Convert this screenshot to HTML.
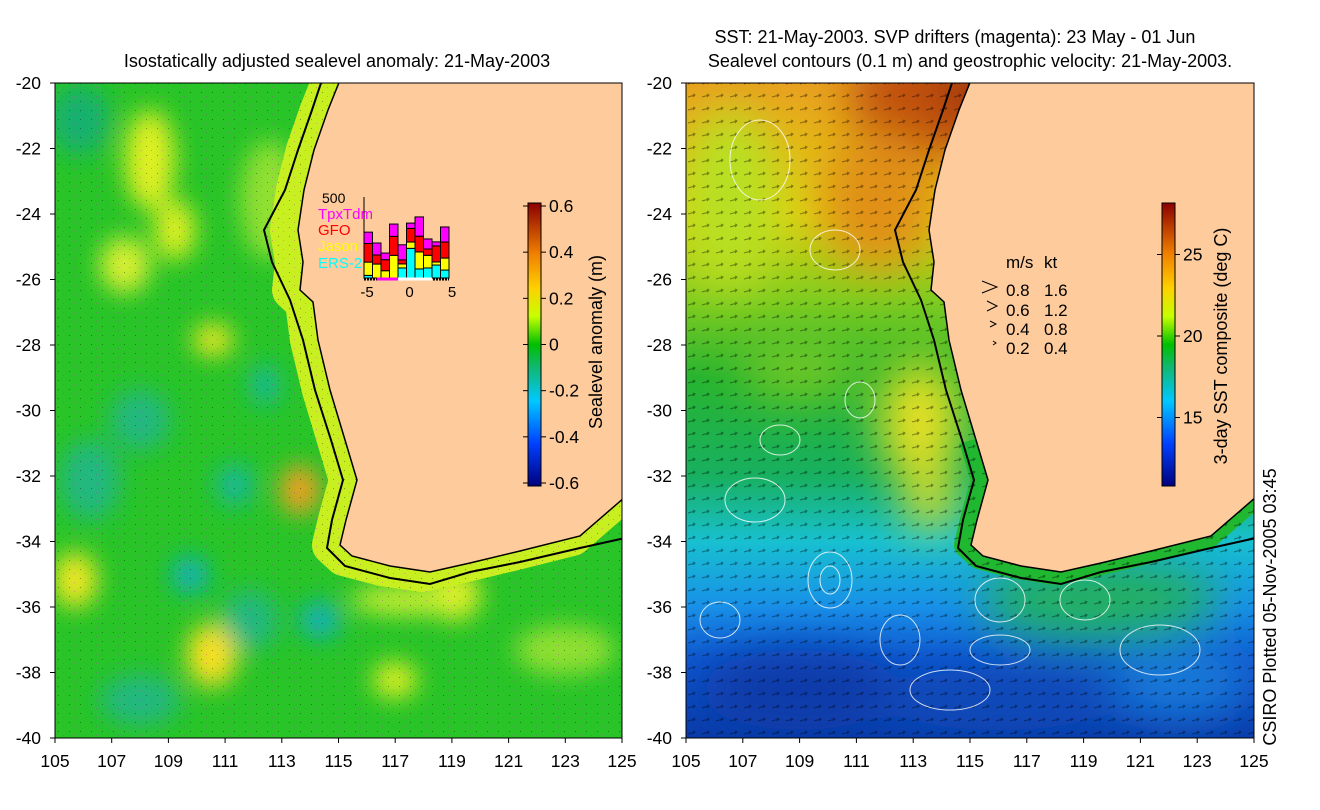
<!DOCTYPE html>
<html><head><meta charset="utf-8">
<style>
body{margin:0;background:#fff;}
svg{display:block;font-family:"Liberation Sans",sans-serif;}
</style></head>
<body>
<svg id="fig" width="1320" height="810" viewBox="0 0 1320 810" xmlns="http://www.w3.org/2000/svg">
<defs>
  <filter id="blur1" x="-50%" y="-50%" width="200%" height="200%"><feGaussianBlur stdDeviation="12"/></filter>
  <filter id="blur2" x="-50%" y="-50%" width="200%" height="200%"><feGaussianBlur stdDeviation="22"/></filter>
  <clipPath id="clipL"><rect x="55" y="83" width="567" height="655"/></clipPath>
  <clipPath id="clipR"><rect x="686" y="83" width="568" height="655"/></clipPath>
  <linearGradient id="cbL" x1="0" y1="1" x2="0" y2="0">
    <stop offset="0" stop-color="#00007f"/><stop offset="0.15" stop-color="#0040ff"/>
    <stop offset="0.3" stop-color="#00c8ff"/><stop offset="0.42" stop-color="#10b870"/>
    <stop offset="0.5" stop-color="#00c000"/><stop offset="0.6" stop-color="#c8ff00"/>
    <stop offset="0.7" stop-color="#ffd000"/><stop offset="0.82" stop-color="#f08000"/>
    <stop offset="1" stop-color="#8a0000"/>
  </linearGradient>
  <linearGradient id="sstBase" x1="0" y1="0" x2="0" y2="1">
    <stop offset="0" stop-color="#e8a020"/><stop offset="0.2" stop-color="#e0d010"/>
    <stop offset="0.33" stop-color="#80cc20"/><stop offset="0.45" stop-color="#28b430"/>
    <stop offset="0.6" stop-color="#18b060"/><stop offset="0.7" stop-color="#18c0d0"/>
    <stop offset="0.8" stop-color="#1890e8"/><stop offset="0.88" stop-color="#1058d0"/>
    <stop offset="1" stop-color="#0a3aa8"/>
  </linearGradient>
  <pattern id="arrows" width="14" height="13" patternUnits="userSpaceOnUse">
    <path d="M2 6 L9 4 M7 3 L9 4 L7 6" stroke="#000" stroke-width="1" fill="none"/>
  </pattern>
  <pattern id="dotsL" width="11" height="9" patternUnits="userSpaceOnUse">
    <rect x="3" y="2" width="1" height="1" fill="#000"/><rect x="8" y="6" width="1" height="1" fill="#f0f"/>
  </pattern>
</defs>

<!-- LEFT PANEL -->
<g clip-path="url(#clipL)">
  <rect x="55" y="83" width="567" height="655" fill="#28c428"/>
  <g filter="url(#blur1)">
    <ellipse cx="80" cy="120" rx="30" ry="35" fill="#18b070"/>
    <ellipse cx="150" cy="160" rx="25" ry="50" fill="#e0f020"/>
    <ellipse cx="175" cy="230" rx="20" ry="30" fill="#e0f020"/>
    <ellipse cx="125" cy="265" rx="25" ry="28" fill="#d8f030"/>
    <ellipse cx="213" cy="340" rx="20" ry="16" fill="#f0e820"/>
    <ellipse cx="270" cy="200" rx="30" ry="60" fill="#90e030"/>
    <ellipse cx="75" cy="580" rx="22" ry="28" fill="#f0e820"/>
    <ellipse cx="212" cy="655" rx="25" ry="32" fill="#f8e020"/>
    <ellipse cx="300" cy="490" rx="20" ry="25" fill="#f0a020"/>
    <ellipse cx="395" cy="680" rx="22" ry="18" fill="#e0f020"/>
    <ellipse cx="455" cy="595" rx="25" ry="25" fill="#e8f020"/>
    <ellipse cx="565" cy="650" rx="50" ry="25" fill="#90e030"/>
    <ellipse cx="410" cy="600" rx="60" ry="14" fill="#d0f030"/>
    <ellipse cx="190" cy="575" rx="18" ry="18" fill="#10b0c0"/>
    <ellipse cx="235" cy="485" rx="18" ry="20" fill="#18b8a0"/>
    <ellipse cx="265" cy="385" rx="14" ry="20" fill="#18b8a0"/>
    <ellipse cx="320" cy="620" rx="20" ry="18" fill="#10b0c0"/>
    <ellipse cx="140" cy="420" rx="30" ry="30" fill="#20b880"/>
    <ellipse cx="90" cy="480" rx="30" ry="40" fill="#20b880"/>
    <ellipse cx="250" cy="620" rx="28" ry="30" fill="#20b880"/>
    <ellipse cx="140" cy="700" rx="40" ry="25" fill="#20b880"/>
  </g>
  <path id="coastbandL" d="" fill="none" stroke="#c8f020" stroke-width="40" stroke-linejoin="round"/>
  <rect x="55" y="83" width="567" height="655" fill="url(#dotsL)" opacity="0.35"/>
  <path id="landL" d="" fill="#fdcb9c"/>
  <path id="isoL" d="" fill="none" stroke="#000" stroke-width="2"/>
  <path id="coastL" d="" fill="none" stroke="#000" stroke-width="1.5"/>
</g>
<rect x="55" y="83" width="567" height="655" fill="none" stroke="#000" stroke-width="1"/>

<!-- RIGHT PANEL -->
<g clip-path="url(#clipR)">
  <rect x="686" y="83" width="568" height="655" fill="url(#sstBase)"/>
  <g filter="url(#blur2)">
    <ellipse cx="930" cy="100" rx="80" ry="60" fill="#c05010"/>
    <ellipse cx="1000" cy="90" rx="60" ry="40" fill="#a03808"/>
    <ellipse cx="880" cy="200" rx="60" ry="70" fill="#e09018"/>
    <ellipse cx="730" cy="200" rx="50" ry="90" fill="#b8e020"/>
    <ellipse cx="920" cy="420" rx="40" ry="60" fill="#e8e020"/>
    <ellipse cx="930" cy="500" rx="25" ry="30" fill="#e8e020"/>
    <ellipse cx="800" cy="370" rx="60" ry="30" fill="#70c828"/>
    <ellipse cx="1100" cy="600" rx="120" ry="40" fill="#20b060"/>
    <ellipse cx="800" cy="690" rx="100" ry="40" fill="#0a3aa8"/>
    <ellipse cx="1000" cy="700" rx="120" ry="30" fill="#0a48b8"/>
    <ellipse cx="1180" cy="680" rx="70" ry="40" fill="#1878d8"/>
  </g>
  <path id="shelfR" d="" fill="none" stroke="#20b830" stroke-width="26" stroke-linejoin="round"/>
  <rect x="686" y="83" width="568" height="655" fill="url(#arrows)" opacity="0.4"/>
  <g fill="none" stroke="#fff" stroke-width="1" opacity="0.8">
    <ellipse cx="830" cy="580" rx="22" ry="28"/><ellipse cx="830" cy="580" rx="10" ry="14"/>
    <ellipse cx="1000" cy="600" rx="25" ry="22"/><ellipse cx="900" cy="640" rx="20" ry="25"/>
    <ellipse cx="1085" cy="600" rx="25" ry="20"/><ellipse cx="1160" cy="650" rx="40" ry="25"/>
    <ellipse cx="755" cy="500" rx="30" ry="22"/><ellipse cx="720" cy="620" rx="20" ry="18"/>
    <ellipse cx="950" cy="690" rx="40" ry="20"/><ellipse cx="860" cy="400" rx="15" ry="18"/>
    <ellipse cx="760" cy="160" rx="30" ry="40"/><ellipse cx="835" cy="250" rx="25" ry="20"/>
    <ellipse cx="780" cy="440" rx="20" ry="15"/><ellipse cx="1000" cy="650" rx="30" ry="15"/>
  </g>
  <path id="landR" d="" fill="#fdcb9c"/>
  <path id="isoR" d="" fill="none" stroke="#000" stroke-width="2"/>
  <path id="coastR" d="" fill="none" stroke="#000" stroke-width="1.5"/>
</g>
<rect x="686" y="83" width="568" height="655" fill="none" stroke="#000" stroke-width="1"/>

<!-- Titles -->
<text x="337" y="67" font-size="18" text-anchor="middle">Isostatically adjusted sealevel anomaly: 21-May-2003</text>
<text x="955" y="43" font-size="18" text-anchor="middle">SST: 21-May-2003. SVP drifters (magenta): 23 May - 01 Jun</text>
<text x="970" y="67" font-size="18" text-anchor="middle">Sealevel contours (0.1 m) and geostrophic velocity: 21-May-2003.</text>

<g id="axes" font-size="17.5"></g>

<!-- Left colorbar -->
<rect x="528" y="203" width="13" height="283" fill="url(#cbL)" stroke="#000" stroke-width="1"/>
<g id="cbLticks" font-size="17.5"></g>
<text transform="translate(602,342) rotate(-90)" font-size="18" text-anchor="middle">Sealevel anomaly (m)</text>

<!-- Right colorbar -->
<rect x="1162" y="203" width="13" height="283" fill="url(#cbL)" stroke="#000" stroke-width="1"/>
<g id="cbRticks" font-size="17.5"></g>
<text transform="translate(1227,346) rotate(-90)" font-size="18" text-anchor="middle">3-day SST composite (deg C)</text>
<text transform="translate(1276,607) rotate(-90)" font-size="18" text-anchor="middle">CSIRO Plotted 05-Nov-2005 03:45</text>

<!-- velocity legend -->
<g font-size="17">
  <text x="1006" y="268">m/s</text><text x="1044" y="268">kt</text>
  <text x="1006" y="296">0.8</text><text x="1044" y="296">1.6</text>
  <text x="1006" y="316">0.6</text><text x="1044" y="316">1.2</text>
  <text x="1006" y="335">0.4</text><text x="1044" y="335">0.8</text>
  <text x="1006" y="354">0.2</text><text x="1044" y="354">0.4</text>
  <path d="M982 281 L997 287 L982 293 M987 301 L997 306 L987 311 M990 321 L996 324 L990 327 M993 341 L996 343 L993 345" fill="none" stroke="#000" stroke-width="1"/>
</g>

<!-- Inset histogram -->
<g id="inset">
  <text x="322" y="203" font-size="14">500</text>
  <text x="318" y="219" font-size="15" fill="#ff00ff">TpxTdm</text>
  <text x="318" y="235" font-size="15" fill="#ff0000">GFO</text>
  <text x="318" y="251" font-size="15" fill="#ffff00">Jason</text>
  <text x="318" y="268" font-size="15" fill="#00ffff">ERS-2</text>
</g>

<script>
// ---- inset histogram data ----
const histBins = [-4.5,-3.5,-2.5,-1.5,-0.5,0.5,1.5,2.5,3.5,4.5];
const ers2  = [16,0,0,0,62,183,56,62,80,49];
const jason = [82,86,45,140,25,39,105,78,19,74];
const gfo   = [115,56,68,117,25,84,97,39,99,99];
const tpx   = [70,74,41,76,93,33,119,62,25,93];
const histTicks = [-5,0,5];
const sst_ticks = [15,20,25];
const sla_ticks = [-0.6,-0.4,-0.2,0,0.2,0.4,0.6];
const lonTicks = [105,107,109,111,113,115,117,119,121,123,125];
const latTicks = [-20,-22,-24,-26,-28,-30,-32,-34,-36,-38,-40];

const NS='http://www.w3.org/2000/svg';
function mk(tag, attrs, parent, txt){const e=document.createElementNS(NS,tag);for(const k in attrs)e.setAttribute(k,attrs[k]);if(txt!==undefined)e.textContent=txt;parent.appendChild(e);return e;}

const hx = v => 364 + (v+5)*8.5;
const hy = v => 278 - v*0.162;
const inset=document.getElementById('inset');
histBins.forEach((b,i)=>{
  let acc=0;
  [[ers2,'#00ffff'],[jason,'#ffff00'],[gfo,'#ff0000'],[tpx,'#ff00ff']].forEach(([arr,c])=>{
    const v=arr[i]; if(v<=0) return;
    const r=mk('rect',{x:hx(b-0.5),y:hy(acc+v),width:8.5,height:hy(acc)-hy(acc+v),fill:c,stroke:'#000','stroke-width':1},inset);
    
    
    acc+=v;
  });
});
mk('line',{x1:hx(-5),y1:hy(500),x2:hx(-5),y2:hy(0),stroke:'#000','stroke-width':1},inset);
mk('line',{x1:hx(-5),y1:hy(0)+1,x2:hx(5),y2:hy(0)+1,stroke:'#000','stroke-width':3,'stroke-dasharray':'2 1'},inset);
mk('line',{x1:hx(-3.5),y1:hy(0)+1,x2:hx(-1),y2:hy(0)+1,stroke:'#ff00ff','stroke-width':3},inset);
mk('line',{x1:hx(-1),y1:hy(0)+1,x2:hx(3),y2:hy(0)+1,stroke:'#fff','stroke-width':3},inset);
histTicks.forEach(t=>{const e=mk('text',{x:hx(t)+3,y:297,'font-size':15,'text-anchor':'middle'},inset,String(t));
  
  });

const pan=[{x0:55,x1:622},{x0:686,x1:1254}];
const yOf = lat => 83 + (-20-lat)*32.75;
const axes=document.getElementById('axes');
pan.forEach((p,pi)=>{
  const xOf = lon => p.x0 + (lon-105)*(p.x1-p.x0)/20;
  lonTicks.forEach(l=>{
    mk('line',{x1:xOf(l),y1:738,x2:xOf(l),y2:743,stroke:'#000'},axes);
    const t=mk('text',{x:xOf(l),y:767,'text-anchor':'middle'},axes,String(l));
    
    
  });
  latTicks.forEach(l=>{
    mk('line',{x1:p.x0-5,y1:yOf(l),x2:p.x0,y2:yOf(l),stroke:'#000'},axes);
    const t=mk('text',{x:p.x0-14,y:yOf(l)+6,'text-anchor':'end'},axes,String(l));
    
    
  });
});
const cbl=document.getElementById('cbLticks');
sla_ticks.forEach(v=>{const y=483-(v+0.6)/1.2*277;
  mk('line',{x1:541,y1:y,x2:546,y2:y,stroke:'#000'},cbl);mk('line',{x1:523,y1:y,x2:528,y2:y,stroke:'#000'},cbl);
  const t=mk('text',{x:549,y:y+6},cbl,String(v));
  
  });
const cbr=document.getElementById('cbRticks');
sst_ticks.forEach(v=>{const y=336-(v-20)*16.3;
  mk('line',{x1:1175,y1:y,x2:1180,y2:y,stroke:'#000'},cbr);mk('line',{x1:1157,y1:y,x2:1162,y2:y,stroke:'#000'},cbr);
  const t=mk('text',{x:1183,y:y+6},cbr,String(v));
  
  });

const coast=[[340,80],[328,110],[314,150],[304,190],[298,230],[303,262],[300,290],[313,302],[318,340],[330,390],[345,440],[357,480],[346,520],[340,545],[352,556],[390,566],[430,572],[470,563],[520,551],[580,536],[625,497]];
const iso=[[322,80],[312,110],[298,150],[285,190],[264,230],[272,262],[290,300],[303,340],[315,390],[331,440],[343,480],[332,520],[327,548],[345,566],[390,578],[430,584],[470,572],[520,562],[580,548],[625,538]];
function pth(pts,dx){return 'M'+pts.map(p=>(p[0]+dx)+' '+p[1]).join(' L');}
[['L',0],['R',631]].forEach(([s,dx])=>{
  document.getElementById('land'+s).setAttribute('d',pth(coast,dx)+' L'+(630+dx)+' 497 L'+(630+dx)+' 80 Z');
  document.getElementById('coast'+s).setAttribute('d',pth(coast,dx));
  document.getElementById('iso'+s).setAttribute('d',pth(iso,dx));
});
document.getElementById('coastbandL').setAttribute('d',pth(coast,-8));
document.getElementById('shelfR').setAttribute('d',pth(coast.slice(10),631-4));
</script>
</svg>
</body></html>
